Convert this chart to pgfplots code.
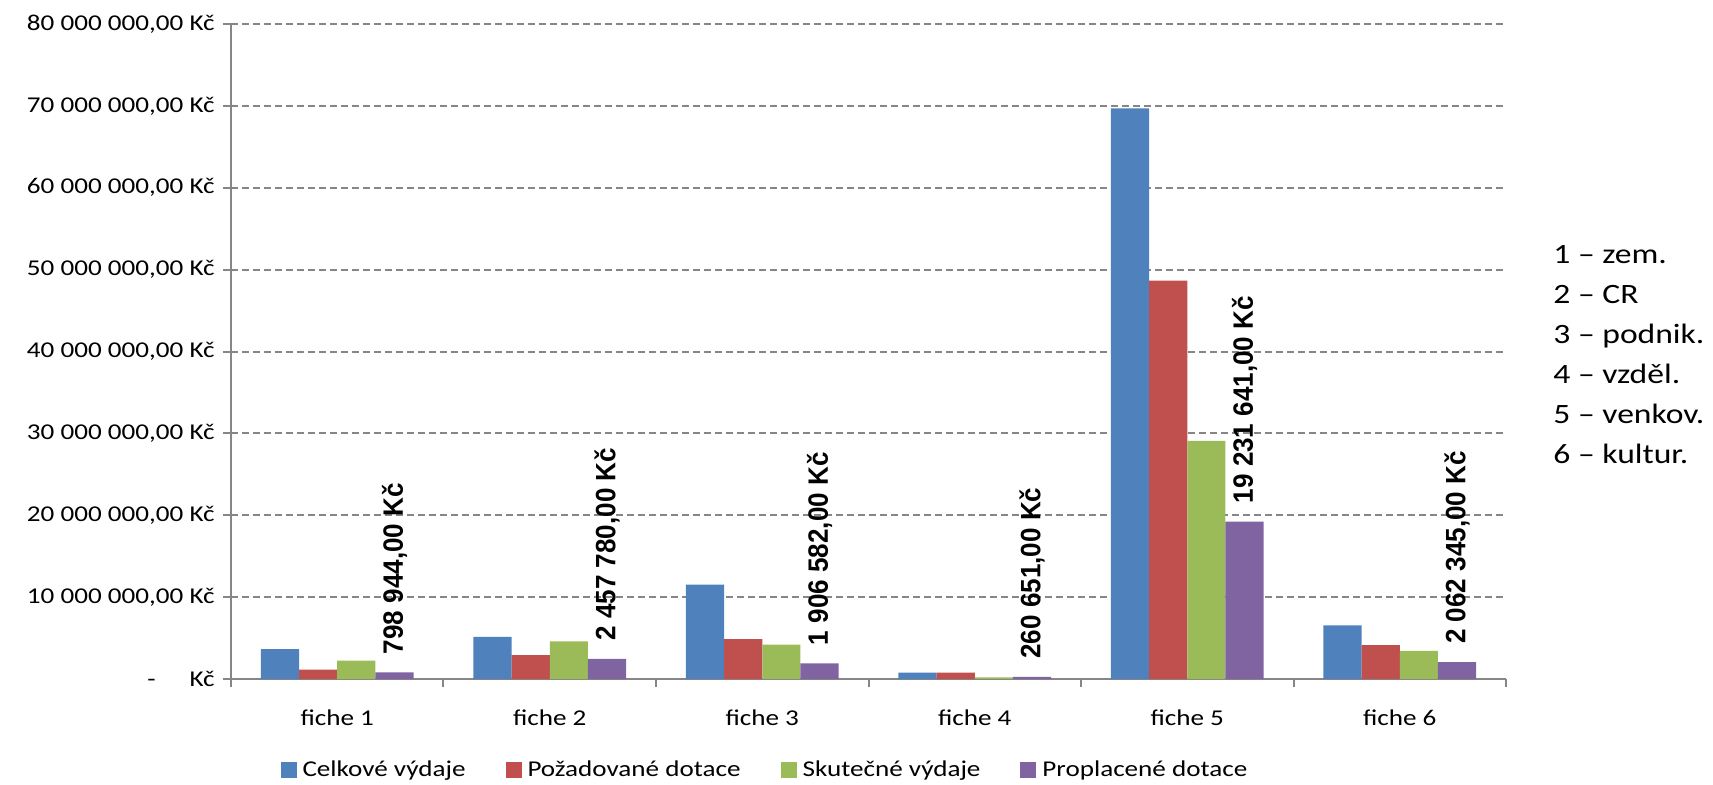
\documentclass[border=0pt]{standalone}
\usepackage{fontspec}
\setmainfont[FakeStretch=1.2]{Carlito}
\newfontfamily\labfont[FakeStretch=0.93]{Liberation Sans}
\usepackage{pgfplots}
\usepackage{pgfplotstable}
\pgfplotsset{compat=1.18}

\definecolor{cblue}{HTML}{4F81BD}
\definecolor{cred}{HTML}{C0504D}
\definecolor{cgreen}{HTML}{9BBB59}
\definecolor{cpurp}{HTML}{8064A2}
\definecolor{axgray}{HTML}{868686}

% Celkove, Pozadovane, Skutecne vydaje per fiche
\pgfplotstableread{
x celk poz skut
0 3660000 1140000 2240000
1 5150000 2930000 4600000
2 11540000 4860000 4210000
3 770000 770000 200000
4 69700000 48670000 29100000
5 6560000 4130000 3440000
}\mainData

% Proplacene dotace with their labels
\pgfplotstableread[col sep=semicolon, row sep=\\]{
x;val;lab\\
0;798944;798 944,00 Kč\\
1;2457780;2 457 780,00 Kč\\
2;1906582;1 906 582,00 Kč\\
3;260651;260 651,00 Kč\\
4;19231641;19 231 641,00 Kč\\
5;2062345;2 062 345,00 Kč\\
}\purpData

\begin{document}
\begin{tikzpicture}
\useasboundingbox (-115.5pt,-52.5pt) rectangle (741pt,339.5pt);
\begin{axis}[
    scale only axis,
    width=637.5pt, height=327.5pt,
    ybar=0pt, bar width=19.1pt,
    xmin=-0.5, xmax=5.5,
    ymin=0, ymax=80000000,
    scaled y ticks=false,
    axis x line=bottom, axis y line=left,
    axis line style={-, draw=axgray, line width=1.1pt},
    tick align=outside,
    major tick length=4pt,
    tick style={axgray, line width=1pt},
    xtick={-0.5,0.5,1.5,2.5,3.5,4.5,5.5},
    xticklabels={,,,,,,},
    extra x ticks={0,1,2,3,4,5},
    extra x tick labels={fiche 1,fiche 2,fiche 3,fiche 4,fiche 5,fiche 6},
    extra x tick style={tick style={draw=none}},
    xticklabel style={font=\fontsize{11.3}{13}\selectfont, anchor=base, yshift=-19pt},
    ytick={0,10000000,20000000,30000000,40000000,50000000,60000000,70000000,80000000},
    yticklabels={{-\hspace{17pt}Kč},{10 000 000,00 Kč},{20 000 000,00 Kč},{30 000 000,00 Kč},{40 000 000,00 Kč},{50 000 000,00 Kč},{60 000 000,00 Kč},{70 000 000,00 Kč},{80 000 000,00 Kč}},
    yticklabel style={font=\fontsize{11.3}{13}\selectfont, anchor=east, inner xsep=0pt, xshift=-4pt},
    ymajorgrids,
    grid style={axgray, line width=1pt, dash pattern=on 3.5pt off 2pt},
    legend columns=-1,
    legend style={at={(0.418,-0.139)}, anchor=center, draw=none,
        font=\fontsize{11.3}{13}\selectfont,
        nodes={inner xsep=0pt, inner ysep=1pt},
        /tikz/every odd column/.append style={column sep=3pt},
        /tikz/every even column/.append style={column sep=20pt}},
    legend image code/.code={\fill[#1, draw=none] (0pt,-4pt) rectangle (8pt,4pt);},
    clip=false,
]
\addplot[fill=cblue, draw=none] table[x=x, y=celk] {\mainData};
\addlegendentry{Celkové výdaje}
\addplot[fill=cred, draw=none] table[x=x, y=poz] {\mainData};
\addlegendentry{Požadované dotace}
\addplot[fill=cgreen, draw=none] table[x=x, y=skut] {\mainData};
\addlegendentry{Skutečné výdaje}
\addplot[fill=cpurp, draw=none,
    point meta=explicit symbolic,
    nodes near coords,
    every node near coord/.append style={rotate=90, anchor=west, inner xsep=9pt, inner ysep=0pt,
        font=\labfont\bfseries\fontsize{14}{16}\selectfont, text=black}]
    table[x=x, y=val, meta=lab] {\purpData};
\addlegendentry{Proplacené dotace}
\end{axis}
\begin{scope}[every node/.style={anchor=base west, inner sep=0pt, font=\fontsize{14}{16}\selectfont}]
\node at (661pt,208pt) {1 – zem.};
\node at (661pt,188pt) {2 – CR};
\node at (661pt,168pt) {3 – podnik.};
\node at (661pt,148pt) {4 – vzděl.};
\node at (661pt,128pt) {5 – venkov.};
\node at (661pt,108pt) {6 – kultur.};
\end{scope}
\end{tikzpicture}
\end{document}
